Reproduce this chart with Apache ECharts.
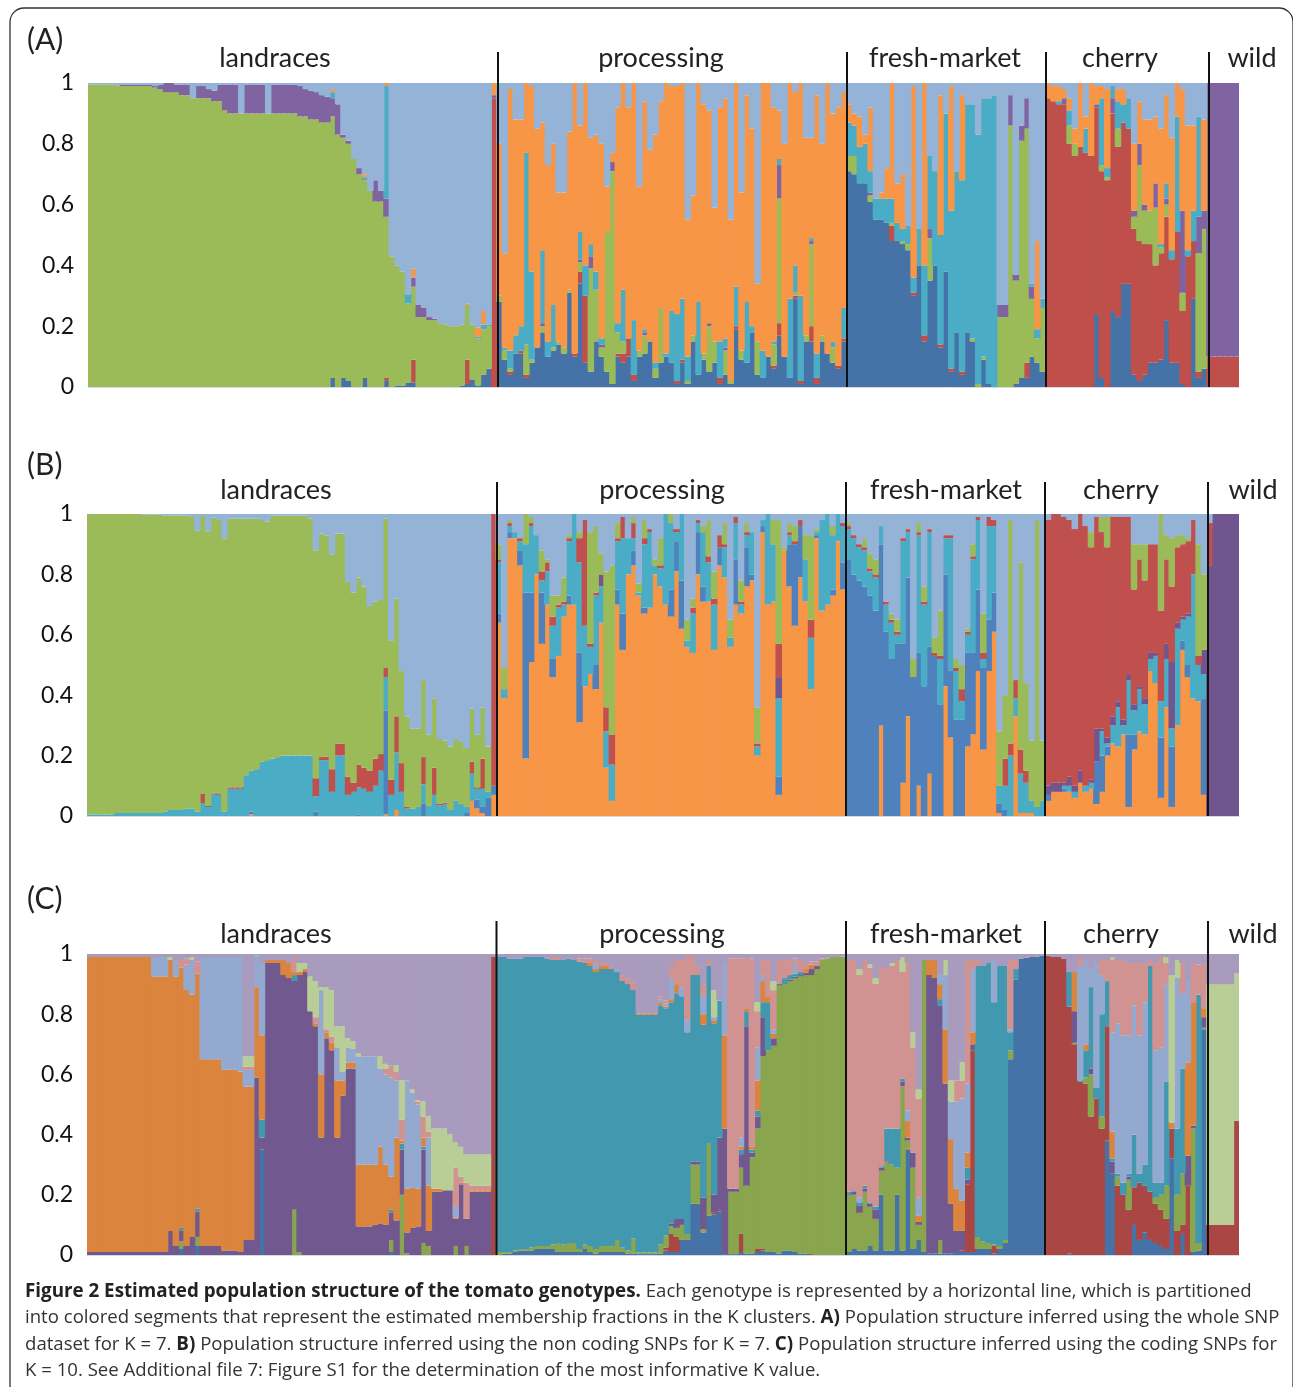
<!DOCTYPE html>
<html><head><meta charset="utf-8">
<style>html,body{margin:0;padding:0;background:#fff}#c{width:1293px;height:1387px}</style>
<script src="https://cdn.jsdelivr.net/npm/echarts@6/dist/echarts.min.js"></script>
</head><body><div id="c"></div>
<script>
const groupNames=['landraces','processing','fresh-market','cherry','wild'];
const yTicks=[0,0.2,0.4,0.6,0.8,1];
// every row is one genotype, percent per cluster, bottom to top; the top cluster takes what is left of 100
const clustersAB=['blue','red','green','purple','cyan','orange','light blue'];
const clustersBC=['orange','blue','cyan','purple','red','green','light blue'];
const clustersC=['blue','red','green','purple','teal','orange','light blue','pink','lime','lilac'];

const A_landraces=[[0,0,99.5],[0,0,99.5],[0,0,99.5],[0,0,99.5],[0,0,99.5],[0,0,99.3],[0,0,99,.5],[0,0,99,.5],[0,0,99,.5],[0,0,99,.5],[0,0,99,.5],[0,0,99,.5],[0,0,98.5,.5],[0,0,98,1.5],[0,0,97,3],[0,0,97,3],[0,0,97,2.5],[0,0,96,3.5],[0,0,96,3.5],[0,0,95],[0,0,95,4],[0,0,95,4],[0,0,95,3],[0,0,94,3.5],[0,0,94,5.5],[0,0,91,8.5],[0,0,90,9.5],[0,0,90,9.5],[0,0,90],[0,0,90,9.5],[0,0,90,9.5],[0,0,90,9.5],[0,0,90,9.5],[0,0,90],[0,0,90,9.5],[0,0,90,9.5],[0,0,90,9.5],[0,0,90,9.5],[0,0,90,9.5],[0,0,89,10],[0,0,89,9],[0,0,88,9.5],[0,0,88,9],[0,0,87,9],[0,0,87,8.5],[3,0,86,6,2,1],[0,0,83,10],[3,0,79,1],[2,0,78,1],[0,0,75],[0,0,70,2],[3,0,65,0,1,1],[0,0,64.5],[0,0,61,7],[0,0,61,3.5],[2,1,53,6,37,1],[0,0,43],[.5,0,39.5],[.5,0,37.5],[1.5,0,26,0,3],[1.5,7.5,24,3,0,3],[0,0,23,4],[0,0,23,3],[0,0,22,1],[0,0,22,.5],[0,0,21],[0,0,20.5],[0,0,20],[0,0,20],[.5,0,20],[1,8,18,0,0,.5],[2.5,0,18],[.5,0,15.5,0,.5,3],[4,0,15,0,1.5,4.5],[6,0,14,0,.5],[0,95,0,1,0,4]];
const A_processing=[[28,0,2,0,0,50],[9,0,3,0,1,31],[4,1,1,0,6,86],[11,0,0,0,6,71],[11,1,0,0,8,68],[3,1,10,0,63,23],[8,0,1,0,29,61],[13,0,0,0,0,72],[18,0,2,1,24,42],[10,0,0,0,5,58],[12,0,1,0,14,53],[14,0,1,0,0,49],[11,0,2,0,0,51],[31,0,1,0,0,52],[10,1,0,0,0,89],[34,4,3,1,9,35],[8,22,0,0,10,60],[5,0,34,4,4,35],[15,0,17,0,6,45],[10,0,3,1,2,64],[5,0,46,0,0,15],[1,0,70,3,0,3],[10,1,7,0,3,71],[8,3,4,0,17,68],[10,6,0,0,0,76],[2,2,0,0,18,78],[10,0,2,0,0,54],[11,0,6,1,1,75],[15,0,0,0,0,63],[3,0,3,0,2,75],[8,0,18,0,0,68],[10,0,0,0,1,89],[8,0,0,0,17,74],[1,1,0,0,22,75],[8,1,0,0,20,71],[1,0,1,0,8,45],[15,0,2,0,0,46],[4,0,0,0,24,72],[9,0,2,0,0,82],[5,0,15,1,0,70],[8,0,7,0,0,44],[1,2,0,0,12,77],[4,0,8,1,3,79],[1,0,1,0,0,53],[19,1,0,0,13,67],[9,0,3,0,0,52],[8,0,0,0,20,68],[18,0,0,0,2,65],[4,0,11,0,0,19],[3,0,0,0,9,88],[10,0,0,0,0,90],[6,1,7,0,1,77],[17,4,41,11,2,16],[10,0,0,0,0,70],[3,0,0,0,26,71],[29,1,1,0,9,57],[1,1,0,0,28,70],[15,0,2,0,0,65],[15,5,27,1,1,33],[1,2,0,0,8,85],[15,0,2,0,0,63],[11,0,0,0,0,89],[8,0,5,0,2,75],[6,1,0,0,0,85],[15,1,0,0,10,71]];
const A_fresh=[[71,0,5,0,11,6],[70,0,6,0,10,4],[67,0,0,0,12,10],[67,0,0,0,13,3],[61,0,2,1,7,21],[55,0,0,0,7],[55,0,0,0,7,2],[54,0,0,0,8,10],[48,5,1,0,8,38],[48,0,0,0,6,13],[47,0,1,0,4,18],[45,0,2,0,6],[30,1,0,0,5,63],[40,0,0,0,12],[15,2,0,0,23,60],[35,0,14,3,24],[40,0,0,0,31],[13,1,0,0,36,46],[38,0,0,0,52],[5,1,0,0,52,41],[18,0,0,0,53],[4,1,0,0,63,28],[18,0,0,0,75],[15,0,1,0,77],[0,0,1,0,82],[9,0,1,0,85],[1,0,0,0,94],[0,0,0,0,96],[0,0,23,4],[0,0,23,4],[0,0,86,10],[1,0,34,2],[3,0,78,5],[3,5,77,10],[10,0,19,4,1],[8,0,8,0,3,29],[5,0,21,0,3]];
const A_cherry=[[0,95,0,0,0,5],[0,94,0,0,0,5],[0,93,0,0,1,5],[0,93,0,2,0,3],[0,80,6,0,5,4],[0,76,4,0,0,5],[0,79,0,0,0,21],[0,77,0,0,8,4],[0,76,0,0,0,24],[24,68,0,1,0,6],[3,68,2,0,22,4],[0,68,1,0,3,26],[25,65,0,5,4],[23,56,6,0,9,4],[34,53,0,0,6,5],[34,51,0,0,10],[4,48,4,2,0,22],[2,46,25,7,0,14],[4,43,11,2,0,28],[8,39,11,0,0,30],[8,32,19,8,0,22],[9,35,2,0,1,38],[22,34,4,2,5,29],[8,34,0,0,3,37],[8,43,0,0,38,11],[1,24,6,27,0,40],[0,43,0,0,2,41],[29,19,0,0,10,28],[3,2,39,12,33],[6,0,46,6,0,30]];
const A_wild=[[0,10,0,90],[0,10,0,90],[0,10,0,90],[0,10,0,90],[0,10,0,90],[0,10,0,90]];

const B_landraces=[[0,0,.5,0,0,99.5],[0,0,.5,0,0,99.5],[0,0,.5,0,0,99.5],[0,0,.5,0,0,99.5],[0,0,.5,0,0,99.5],[0,0,1,0,0,99],[0,0,1,0,0,99],[0,0,1,0,0,99],[0,0,1,0,0,99],[0,0,1,0,0,99],[0,0,1,0,0,98.8],[0,0,1,0,0,98.8],[0,0,1,0,0,98.8],[0,0,1,0,0,98.8],[0,0,1.5,0,0,98],[0,0,2,0,0,97.5],[0,0,2,0,0,97.5],[0,0,2,0,0,97.5],[0,0,2.5,0,0,97],[0,0,2.5,0,0,96.5],[0,0,1.5,0,0,93],[0,0,4.3,0,3,92],[0,0,3,0,.3,91],[0,0,7.5,0,.3,91],[0,0,7,0,.5,90.5],[0,0,1.5,0,0,90.5],[0,0,9,0,.5,89],[0,0,9,0,.5,89],[0,0,9,0,.5,89],[0,0,13.5,0,0,85],[.5,1,13.5,0,0,83.5],[0,0,15.5,0,0,83],[0,0,18,0,0,80],[0,0,18.5,0,0,79],[0,0,19,0,0,80.5],[0,0,19.5,0,0,80],[0,0,20,0,0,79.5],[0,0,20,0,0,79.5],[0,0,20,0,0,79.5],[0,0,20,0,0,79.5],[0,0,20,0,0,79.5],[0,0,20,0,0,78.5],[0,1.5,5,0,6,75.5],[0,0,18.5,0,1,74],[0,0,18.5,0,1.2,73.3],[0,0,8,0,7.5,71],[0,0,20,0,4,69.5],[0,0,20,0,4,69.5],[0,0,7,0,6,64.5],[0,0,8,0,3,63],[0,.5,9,0,7.5,62],[0,0,9,0,7,60],[0,0,8,0,7,54.5],[0,0,10,0,9,52],[0,0,15,0,5.5,51],[.5,34.5,11,0,3,49.5],[0,0,7,0,5,46],[2,0,19,0,12,39],[0,0,8,0,9.5,30.5],[0,0,2.5,0,.5,30],[0,0,2.5,0,0,26.5],[0,0,3,0,0,26],[0,4,6.5,0,9,25.5],[0,0,3.5,0,0,23.5],[0,0,7,0,9,23],[0,0,3.5,0,.5,21.5],[0,0,4,0,.5,20.5],[0,0,2,0,0,21],[0,0,5,0,0,20.5],[0,0,4,0,0,20.5],[0,1,2,0,0,19.5],[5,0,9,0,4,17.5],[2.5,3,3.5,0,.5,17.5],[1,2,6,0,10,17],[0,6,2,0,0,15],[7,3,0,0,90]];
const B_processing=[[64,3,17,0,1,5],[39,0,3,0,0,7],[92,2,2,0,1,1],[92,0,2],[83,5,3,0,1],[19,55,16,0,0,10],[51,23,22,0,1,2],[80,0,13],[57,17,4,0,3,7],[70,0,11,0,3,1],[46,6,11,0,3,7],[53,0,16,0,1,3],[66,0,4,0,1,8],[70,3,18,0,1,1],[70,0,30],[31,23,30,0,8,2],[43,0,20,0,35],[47,0,9,0,1,37],[42,8,23,0,1,22],[64,0,12,4,0,7],[16,0,12,0,8,45],[5,0,12,0,10,56],[70,5,16,0,1,5],[55,12,25,0,7],[80,0,12],[83,5,4,0,5,2],[73,0,1,0,0,3],[67,2,21,0,2,6],[69,0,25,0,1],[80,0,3,0,0,2],[76,0,6,0,1,9],[70,0,30],[66,9,22,0,0,3],[81,10,3,0,1],[62,16,22],[56,0,2,0,0,7],[54,0,13,0,2,3],[80,14,3,0,1],[71,5,18,0,0,2],[71,0,13,0,2,12],[55,0,15,0,2,9],[83,6,0,0,4],[79,0,10,0,1,7],[56,0,3,0,0,6],[70,15,12,0,2],[67,0,3,0,1,7],[76,13,4,0,1,3],[78,2,14],[20,0,3,0,1,12],[94,2,2],[70,0,30],[71,0,19,0,0,8],[7,6,26,7,11,41],[88,0,0,0,0,1],[76,14,3,0,1,3],[63,27,0,0,1,5],[79,17,0,0,2],[71,0,14,0,0,8],[42,0,17,0,6,28],[92,1,1,0,0,1],[68,0,30],[70,0,30],[73,2,18,0,0,3],[91,0,9],[75,9,12,0,1]];
const B_fresh=[[0,85,10,0,1,1],[0,80,12,0,1],[0,78,11,0,1],[0,76,12,0,1,3],[0,73,8,0,1,5],[0,68,11,0,1,5],[30,60,6],[0,61,9,0,1],[0,52,12,0,1,2],[0,57,3,0,1,4],[11,46,34,0,1],[33,46,15,0,1],[0,46,0,0,0,6],[10,44,39,0,1,3],[0,43,27,0,1,5],[14,42,38,0,1],[0,53,0,0,1,5],[0,37,15,0,1,15],[43,37,12,0,1],[26,22,44,0,1],[0,32,16,0,1,3],[0,32,6,0,4,8],[23,31,6,0,1,1],[27,27,31,0,1,4],[48,27,23,0,1],[22,27,3,0,2,13],[48,17,31,0,3],[61,13,22,0,2],[1,3,6,0,0,18],[0,2,8,0,9,21],[0,0,20,0,4,74],[33,0,6,0,6],[1,0,13,0,8,62],[1,0,10,0,4,29],[1,0,4,0,0,20],[0,0,3,0,0,95],[0,0,5,0,0,20]];
const B_cherry=[[5,2,0,3,88],[8,0,0,3,89],[8,0,0,3,89],[8,1,1,1,88],[8,0,2,3,85],[6,0,2,2,85],[11,0,0,4,85],[8,0,2,0,86],[9,0,2,1,77,5],[4,14,0,11,70],[8,12,8,1,65,5],[20,3,1,2,63,10],[24,0,6,3,66],[23,0,13,2,61],[27,0,3,2,67],[3,24,18,2,52],[22,5,8,2,38,15],[28,0,14,1,42,5],[27,0,10,2,39,12],[48,0,4,2,36],[44,0,9,1,36],[6,20,12,0,30,32],[36,0,16,5,28,8],[3,20,6,22,25,16],[30,0,32,2,25,4],[55,3,7,1,24,3],[46,4,16,1,24,1],[39,0,41,0,18],[38,0,12,0,3,37],[7,32,8,8,0,25]];
const B_wild=[[0,0,0,83,14],[0,0,0,100],[0,0,0,100],[0,0,0,100],[0,0,0,100],[0,0,0,100]];

const C_landraces=[[0,0,0,1,0,98],[0,0,0,1,0,98],[0,0,0,1,0,98],[0,0,0,1,0,98],[0,0,0,1,0,98],[0,0,0,1,0,98],[0,0,0,1,0,98],[0,0,0,1,0,98],[0,0,0,1,0,98],[0,0,0,1,0,98],[0,0,0,1,0,98],[0,0,0,1,0,98],[0,0,0,1,0,91.5,6.5],[0,0,0,1,0,91.5,6.5],[0,0,0,1,0,91.5,6.5],[0,0,0,8,0,90,0,0,1],[0,0,0,3,0,89.5,5.5],[2,0,2.5,3.5,1,86.5,0,2.5],[0,0,0,3,0,85,8.5,2],[0,0,0,6,0,80.5,11.5,0,1],[3,0,3,8.5,1,78,0,4],[0,0,0,3,0,62,34],[0,0,0,3,0,62,34],[0,0,0,3,0,62,34],[0,0,0,3,0,62,34],[0,0,0,1.5,0,60,37.5],[0,0,0,1.5,0,60,37.5],[0,0,0,1.5,0,60,37.5],[0,0,0,1,0,60,38],[0,0,0,5,0,51,5.5,1,3.5],[0,0,0,5,0,51,5.5,1,3.5],[0,0,0,59,0,30,10.5],[35,0,0,4,6,28,24],[0,0,0,97,0,1],[0,0,0,97,0,1],[0,0,0,97,0,1],[0,0,0,93,0,5],[0,0,0,92,0,5],[0,0,15,76,2,1,0,5],[0,0,1,92,0,1,0,0,3],[0,0,0,94,0,1,0,0,2],[0,0,0,81,0,0,0,0,11.5],[0,0,0,76,0,1,0,2,12],[0,0,0,39,0,21,28,0,1],[0,0,0,72,0,2,0,1,14],[0,0,0,68,0,2.5,0,2,15.5],[0,0,0,39,0,19,11,0,7],[0,0,0,53,0,5,3,0,15],[0,0,0,62,0,2,5,0,3],[0,0,0,62,0,2,4.5,0,2.5],[0,0,0,9.5,0,20.5,36,0,1],[0,0,0,9.5,0,20.5,36],[0,0,0,9.5,0,20.5,36],[0,0,0,10,0,20,36],[0,0,0,10.5,0,25.5,26,0,4],[0,0,0,10,0,20,30,2,1.5],[1,0,4,9,1,11,33,4],[0,0,0,11.5,0,27.5,19,3,2],[0,0,20,15,2,1,0,7,13],[0,0,.5,7,0,14.5,36],[0,0,0,9,0,13.5,31.5,0,1],[0,0,0,9.5,0,12.5,28,1,.5],[0,0,4,31,1,3,0,7,5],[0,0,3,5,0,15,16,2,5],[0,0,0,21,0,1,0,0,20],[0,0,0,21,0,1,0,0,20],[0,0,0,21.5,0,0,0,0,20.5],[0,0,0,21.5,0,0,0,0,18.5],[0,0,3,9,0,.5,3.5,13,8.5],[0,0,0,23.5,0,.5,0,2,10],[0,0,3,9,0,0,0,12,9.5],[0,0,0,21,0,.5,0,1.5,10.5],[0,0,0,21,0,.5,0,1.5,10.5],[0,0,0,21,0,.5,0,1.5,10.5],[0,0,0,21,0,.5,0,1.5,10.5],[0,99]];
const C_processing=[[0,0,1,0,98],[.5,0,.5,0,98],[.5,0,.5,0,97.5],[1,0,.5,0,97],[1.5,0,.5,0,96.5],[1.5,0,.5,0,97],[1.5,0,1,0,96.5],[2,0,1,0,96],[2,0,1,0,96],[2,0,1,0,95.5],[2,0,1.5,0,94.5,0,0,1],[1,0,3,0,94,0,0,1],[1,0,2.5,0,94.5],[1,0,3,0,94.5],[1,0,3,0,94],[1,0,1,0,95.5,0,0,1],[2,0,1.5,0,93.5,0,0,1.5],[1,0,2,0,93,1,0,1.5],[.5,0,1.5,0,92,1,2,1],[1,0,2,0,92,1,0,1],[1,0,2,0,92,1,0,1],[1,0,2,0,92,0,0,1],[1,0,4,0,89,0,1],[1,0,1.5,0,88.5,0,0,2],[.5,0,1,0,88.5,0,0,2],[.5,0,5,0,82.5,0,0,3],[.3,0,.5,0,79,.5],[.3,0,.5,0,79,.5],[.3,0,.5,0,79,.5],[.3,0,.5,0,79,.5],[.5,0,3,0,79.5,1,1,1],[1.5,1,4,0,75.5,.5,1,1],[1,6,2.5,1,73.5,1,7,4],[1,5,3,3,75,3,0,8],[5,0,5,2,74,0,3,9],[5,0,2,0,67,0,4,22],[17,0,13,1,62,0,0,6],[17,0,13,1,62,0,0,3],[7.5,0,1,10.5,57.5,3.5,6,4],[13,0,24,0,59,0,0,2],[13.5,.5,0,6,57,1,1,0,9],[14.5,.5,0,24,45.5],[.3,0,0,41.7,0,31,24],[.3,0,20.7,1,0,0,0,76.5],[.3,0,20.7,1,0,0,0,76.5],[1,6,22,4.5,1.5,1,3,59.5],[.5,0,22.5,53,5,1,0,17],[.5,0,32,1.5,1,1,0,62.5],[1,1,40,4,2,10,11,12,3],[1.5,.5,64,13,5,7,2,5],[1,0,67,0,16,2,0,12],[1,0,68.5,2.5,0,1.5,1.5,13,3],[.5,0,89,.5,0,0,0,8],[1.5,0,88.5,0,2,0,0,6],[1.5,0,89.5,.5,1.5,0,0,5],[1,0,91,.5,1,0,3.5,1.5],[.5,0,92,.5,1,0,0,4],[.5,0,92.5,.8,0,1.2,0,2],[0,.3,92.7,2,0,1.5,0,1],[0,0,95,1,0,0,0,1.5],[0,0,98,0,0,0,0,.5],[0,0,98.5],[0,0,99],[0,0,99],[0,0,99.2]];
const C_fresh=[[1,0,19,.5,.5,0,0,77],[2,0,18,1,.5,0,0,76.5],[1.5,0,12.5,2.5,1,0,1.5,74,2],[1.5,0,19.5,1,1,0,0,75],[3,0,13,1,.5,0,0,78,1],[1.5,0,10.5,3,1,0,0,74,2],[20,0,8,1,.5,0,0,66.5],[1.5,0,29.5,.5,10.5,0,0,53],[1.5,0,28.5,0,12,0,0,54,1],[20,0,9,0,13,0,0,56],[1.5,0,54.5,1.5,1,0,0,35.5,5],[35,.3,2.7,1,0,5.5,3.5,49],[2,0,27,5,0,0,0,35,5],[5,0,5,1,0,2,6,33,3],[1,0,97],[.5,0,0,92.5,0,5],[.5,0,0,91.5,0,6],[.5,0,4.5,78,2,5,3],[.5,0,0,56.5,0,18,18,0,5],[.5,0,0,16.5,0,21.5,12.5,0,7],[1,0,0,7,0,14,29,7],[1,.5,0,6.5,0,10,34,6,6],[1,22.5,0,1.5,4,5,23,41],[1,67,0,2,0,4,21,3],[2,0,4,0,90,0,0,2],[2,0,2.5,0,91.5],[2,0,2,0,93],[.5,2.5,.5,0,80.5,0,14],[2,0,1,0,93],[4,0,1,0,91],[65,0,3,0,6,0,1,23],[91.5,0,0,0,3.5,0,0,3],[98.5],[98.7],[99],[99.2],[99.5]];
const C_cherry=[[0,99.5],[0,99],[0,99],[0,98.5],[.5,82,0,0,11.5],[0,70,.5,10.5,0,13],[0,57.5,0,0,.5,0,38,3],[0,57,2,0,9,2,28],[0,46,14,2,27,0,6],[0,52,0,0,3.5,0,41.5],[0,42,4,0,34,0,13,5],[38,38,0,0,15,0,0,7],[27,0,0,4,1,9,33,24,1],[0,23,3,0,1,0,50,21],[0,20,0,0,4,0,49,25],[0,15,10,1,1,0,46,24],[10,12.5,0,0,17.5,0,43,14],[5,19,0,0,3,0,46,24],[7.5,15.5,0,0,7,0,54,13],[5,16,0,0,75,0,0,2],[4,13,2,0,5,0,44,29],[3,12,5,0,4,0,45,30],[2,10,11,0,34.5,0,32.5,7,2],[32,10,0,0,0,2,0,0,49],[0,8,12,0,22,0,50,0,6],[7,3,17,0,35,0,25,10],[0,23,0,10,0,31,27],[1,0,41,1,0,41,0,13],[1.5,0,2.5,0,82.5,0,0,10],[75,0,.5,3.5,0,3,0,15]];
const C_wild=[[0,10,0,0,0,0,0,0,80],[0,10,0,0,0,0,0,0,80],[0,10,0,0,0,0,0,0,80],[0,10,0,0,0,0,0,0,80],[0,10,0,0,0,0,0,0,80],[0,44.5,0,0,0,0,0,0,49]];

const colorsA=['#4572a7','#bf4f4b','#9bbb59','#8064a2','#4bacc6','#f79646','#95b3d7'];
const colorsB=['#f79646','#4f81bd','#4bacc6','#70558f','#c0504d','#9bbb59','#95b3d7'];
const colorsC=['#4572a7','#aa4643','#89a54e','#71588f','#4198af','#db843d','#93a9cf','#d19392','#b9cd96','#a99bbd'];

const panels=[
 {name:'(A)',rows:[A_landraces,A_processing,A_fresh,A_cherry,A_wild],clusters:clustersAB,colors:colorsA,left:88,top:83,h:304,letterY:45,labelY:58,lineTop:52,lines:[498,847,1046,1209],labelX:[275,661,945,1120,1252]},
 {name:'(B)',rows:[B_landraces,B_processing,B_fresh,B_cherry,B_wild],clusters:clustersBC,colors:colorsB,left:87,top:514,h:302,letterY:470,labelY:490,lineTop:482,lines:[497,846,1045,1208],labelX:[276,662,946,1121,1253]},
 {name:'(C)',rows:[C_landraces,C_processing,C_fresh,C_cherry,C_wild],clusters:clustersC,colors:colorsC,left:87,top:954,h:301,letterY:904,labelY:934,lineTop:921,lines:[496.5,846,1045,1208],labelX:[276,662,946,1121,1253]}
];
const fontA='Lato, "Open Sans", sans-serif', fontCap='"Open Sans", sans-serif';
const grids=[],xAxes=[],yAxes=[],series=[],graphics=[];
panels.forEach((p,k)=>{
  const rows=p.rows.flat();
  const n=p.clusters.length;
  grids.push({left:p.left,width:1239-p.left,top:p.top,height:p.h,show:false});
  xAxes.push({gridIndex:k,type:'category',data:rows.map((_,i)=>i+1),axisLabel:{show:false},axisTick:{show:false},axisLine:{show:true,lineStyle:{color:'#d4d9e2',width:1}}});
  yAxes.push({gridIndex:k,type:'value',min:0,max:1,interval:0.2,splitLine:{show:false},axisLine:{show:false},axisTick:{show:false},axisLabel:{fontFamily:fontA,fontSize:23,color:'#111',margin:14,padding:[5,0,0,0]}});
  p.clusters.forEach((c,j)=>{
    series.push({type:'bar',name:c,stack:'s'+k,xAxisIndex:k,yAxisIndex:k,barWidth:6.5,barGap:'0%',animation:false,silent:true,
      itemStyle:{color:p.colors[j],borderWidth:0},
      data:rows.map(r=>{
        if(j<n-1) return (r[j]||0)/100;
        const s=r.reduce((a,b)=>a+b,0);
        return Math.max(0,100-s)/100;
      })});
  });
  graphics.push({type:'text',left:27,top:p.letterY-20,style:{text:p.name,fontFamily:fontA,fontSize:30,fill:'#222'}});
  groupNames.forEach((g,i)=>graphics.push({type:'text',x:p.labelX[i],y:p.labelY,style:{text:g,fontFamily:fontA,fontSize:27,fill:'#222',align:'center',verticalAlign:'middle'}}));
  p.lines.forEach(x=>graphics.push({type:'line',z:50,shape:{x1:x,y1:p.lineTop,x2:x,y2:p.top+p.h},style:{stroke:'#111',lineWidth:2}}));
});
const B=s=>'{b|'+s+'}', T=s=>'{t|'+s+'}';
const captionLines=[
 B('Figure 2 Estimated population structure of the tomato genotypes.')+T(' Each genotype is represented by a horizontal line, which is partitioned'),
 T('into colored segments that represent the estimated membership fractions in the K clusters. ')+B('A)')+T(' Population structure inferred using the whole SNP'),
 T('dataset for K = 7. ')+B('B)')+T(' Population structure inferred using the non coding SNPs for K = 7. ')+B('C)')+T(' Population structure inferred using the coding SNPs for'),
 T('K = 10. See Additional file 7: Figure S1 for the determination of the most informative K value.')
];
[1292,1318,1345,1371].forEach((y,i)=>graphics.push({type:'text',x:25,y:y,style:{text:captionLines[i],verticalAlign:'middle',rich:{
  b:{fontFamily:fontCap,fontSize:18.8,fontWeight:'bold',fill:'#222'},t:{fontFamily:fontCap,fontSize:18.6,fill:'#333'}}}}));
graphics.push({type:'rect',z:-1,shape:{x:10,y:8,width:1283,height:1420,r:14},style:{fill:'none',stroke:'#333',lineWidth:1.3}});

const chart=echarts.init(document.getElementById('c'),null,{renderer:'canvas'});
chart.setOption({animation:false,backgroundColor:'#fff',grid:grids,xAxis:xAxes,yAxis:yAxes,series:series,graphic:graphics});
</script></body></html>
